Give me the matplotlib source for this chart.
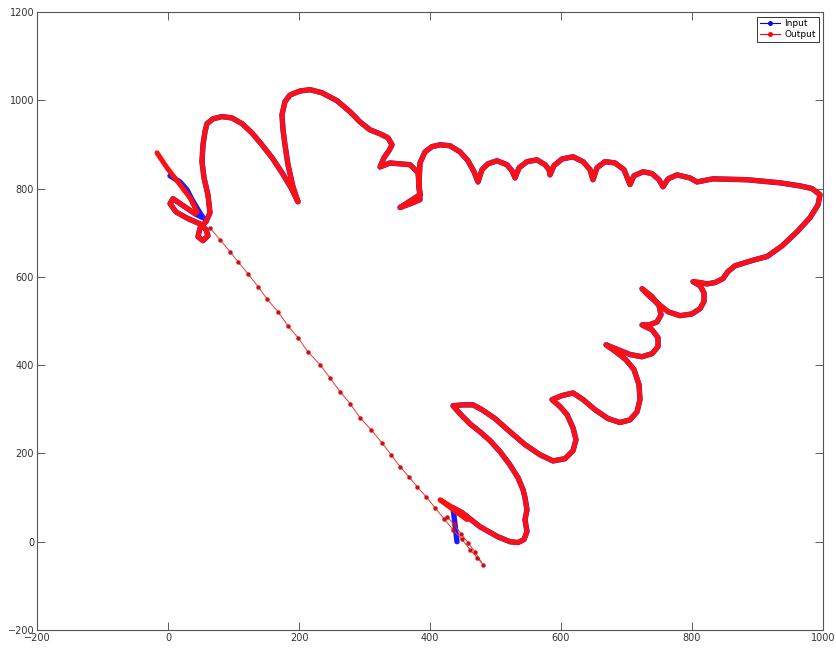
import matplotlib
matplotlib.use("Agg")
import matplotlib.pyplot as plt
from matplotlib.lines import Line2D

# ---- Input trajectory (data units) ----
input_x = [3.1, 18.3, 29, 36.6, 45.8, 53.4, 41.2, 21.4, 7.6, 3.1, 12.2, 30.5, 48.9, 58, 61, 53.4, 45.8, 48.9, 58, 64.1,
           61, 55, 51.9, 53.4, 56.5,
           59.5, 68.7, 82.4, 97.7, 113, 128.2, 143.5, 158.8, 174, 187.8, 198.5, 190.8, 183.2, 178.6, 175.6, 174,
           178.6, 186.3, 201.5, 216.8, 235.1, 258, 277.9, 293.1, 308.4, 323.7, 335.9, 342, 337.4, 329.8, 323.7,
           338.9, 369.5, 381.7, 384.7, 354.2, 374, 384.7, 383.2, 384.7, 392.4, 403, 415.3, 430.5, 445.8, 458,
           467.2, 473.3, 479.4, 488.5, 502.3, 517.5, 525.2, 529.8, 535.9, 548.1, 563.4, 575.6, 581.7, 583.2,
           589.3, 601.5, 618.3, 633.6, 644.3, 648.8, 654.9, 667.1, 682.4, 696.1, 705.3, 711.4, 725.2, 738.9,
           749.6, 755.7, 763.4, 777.1, 797, 807.6, 832, 884, 934.3, 964.9, 983.2, 995.4, 992.3, 980.1, 960.3,
           937.4, 914.5, 896.2, 880.9, 865.6, 854.9, 847.3, 835.1, 822.9, 812.2, 801.5, 812.2, 818.3, 818.3,
           812.2, 800, 781.7, 763.4, 746.6, 732.9, 723.7, 739, 749.6, 752.7, 746.6, 734.4, 723.7, 739, 748.1,
           748.1, 739, 723.7, 705.3, 687, 668.7, 684, 699.2, 711.4, 719, 720.6, 716, 705.3, 690, 671.7, 651.9,
           633.6, 618.3, 601.5, 586.3, 598.5, 609.2, 618.3, 622.9, 618.3, 606.1, 587.8, 567.9, 545, 522.1,
           499.2, 479.4, 465.6, 450.4, 435.1, 445.8, 461, 476.3, 491.6, 506.9, 522.1, 534.3, 542, 545, 548.1,
           545, 548.1, 543.5, 534.3, 522.1, 503.8, 476.3, 448.8, 435.1, 438.2, 441.2]
input_y = [829, 815, 797, 775, 752, 734, 743, 763, 777, 766, 747, 732, 720, 707, 693, 682, 691, 711, 725, 745,
           786, 824, 861, 899, 929,
           947, 958, 963, 960, 947, 926, 899, 870, 836, 802, 770, 804, 854, 899, 933, 967,
           997, 1012, 1021, 1024, 1017, 999, 974, 951, 933, 924, 915, 899, 886, 870, 849,
           858, 854, 836, 786, 757, 768, 775, 809, 858, 883, 895, 899, 897, 883, 863,
           838, 815, 843, 856, 863, 854, 840, 824, 847, 861, 865, 854, 843, 831,
           852, 867, 872, 861, 843, 820, 847, 861, 858, 843, 809, 829, 838, 834,
           820, 804, 822, 831, 824, 815, 822, 820, 813, 806, 800, 786, 763, 734, 702,
           670, 646, 639, 632, 625, 612, 596, 587, 584, 587, 589, 580, 564, 544,
           528, 516, 512, 521, 541, 559, 573, 555, 535, 514, 498, 491, 491, 480, 462,
           442, 426, 419, 424, 435, 446, 430, 412, 390, 356, 322, 294, 276, 270, 279, 299,
           322, 337, 331, 322, 306, 288, 258, 231, 206, 188, 183, 197, 220, 249,
           279, 299, 310, 310, 308, 290, 267, 249, 229, 204, 174, 145, 118, 100, 72,
           50, 23, 5, -2, 0, 11, 34, 66, 77, 39, 0]

# ---- Output trajectory extras (data units) ----
out_head_x = [-16.8, -1.5, 18.3, 33.6, 44.3]
out_head_y = [881, 847, 809, 779, 747]
out_tail_x = [415.3, 436.0, 456.5]
out_tail_y = [95, 72, 50]
out_jump_x = [426.0, 436.6, 447.3, 458.0, 468.7, 480.9, 471.7, 461.0, 448.8, 435.1, 421.4, 407.6, 393.9, 380.1,
              367.9, 354.2, 340.5, 326.7, 309.9, 293.1, 277.9, 262.6, 247.3, 232.1, 213.7, 198.5, 183.2, 167.9,
              151.1, 137.4, 122.1, 106.9, 94.7, 79.4, 64.1]
out_jump_y = [57, 39, 18, -2, -23, -52, -36, -18, 5, 27, 52, 77, 102, 125,
              147, 170, 197, 224, 254, 281, 313, 340, 371, 401, 430, 462, 489, 521,
              550, 578, 607, 634, 657, 684, 711]

x_ticks = [-200, 0, 200, 400, 600, 800, 1000]
y_ticks = [-200, 0, 200, 400, 600, 800, 1000, 1200]

out_main_x = out_head_x + input_x[6:-2] + out_tail_x
out_main_y = out_head_y + input_y[6:-2] + out_tail_y

fig = plt.figure(figsize=(8.37, 6.48), dpi=100)
ax = fig.add_axes([0.0442, 0.0278, 0.9391, 0.9537])

ax.plot(input_x, input_y, color="#1a1aff", lw=3.9, solid_capstyle="round", solid_joinstyle="round", zorder=2)
ax.plot(out_main_x, out_main_y, color="#ff1010", lw=3.6, solid_capstyle="round", solid_joinstyle="round", zorder=3)
ax.plot(out_jump_x, out_jump_y, color="#ff3030", lw=0.7, marker="o", ms=2.2,
        mfc="#d01010", mec="#d01010", zorder=3)

ax.set_xlim(-200, 1000)
ax.set_ylim(-200, 1200)
ax.set_xticks(x_ticks)
ax.set_yticks(y_ticks)
ax.tick_params(direction="in", length=5.5, width=0.6, top=True, right=True,
               labelsize=7, labelcolor="#333333", colors="#444444", pad=2)
for sp in ax.spines.values():
    sp.set_color("#555555")
    sp.set_linewidth(0.8)

handles = [Line2D([], [], color="blue", lw=0.8, marker="o", ms=2.5),
           Line2D([], [], color="red", lw=0.8, marker="o", ms=2.5)]
leg = ax.legend(handles, ["Input", "Output"], loc="upper right", fontsize=6.5,
                fancybox=False, framealpha=1, edgecolor="#333333", borderaxespad=0.5,
                handlelength=2.2, handletextpad=0.5, borderpad=0.3, labelspacing=0.2)
leg.get_frame().set_linewidth(0.7)

fig.savefig("out.png", dpi=100)
